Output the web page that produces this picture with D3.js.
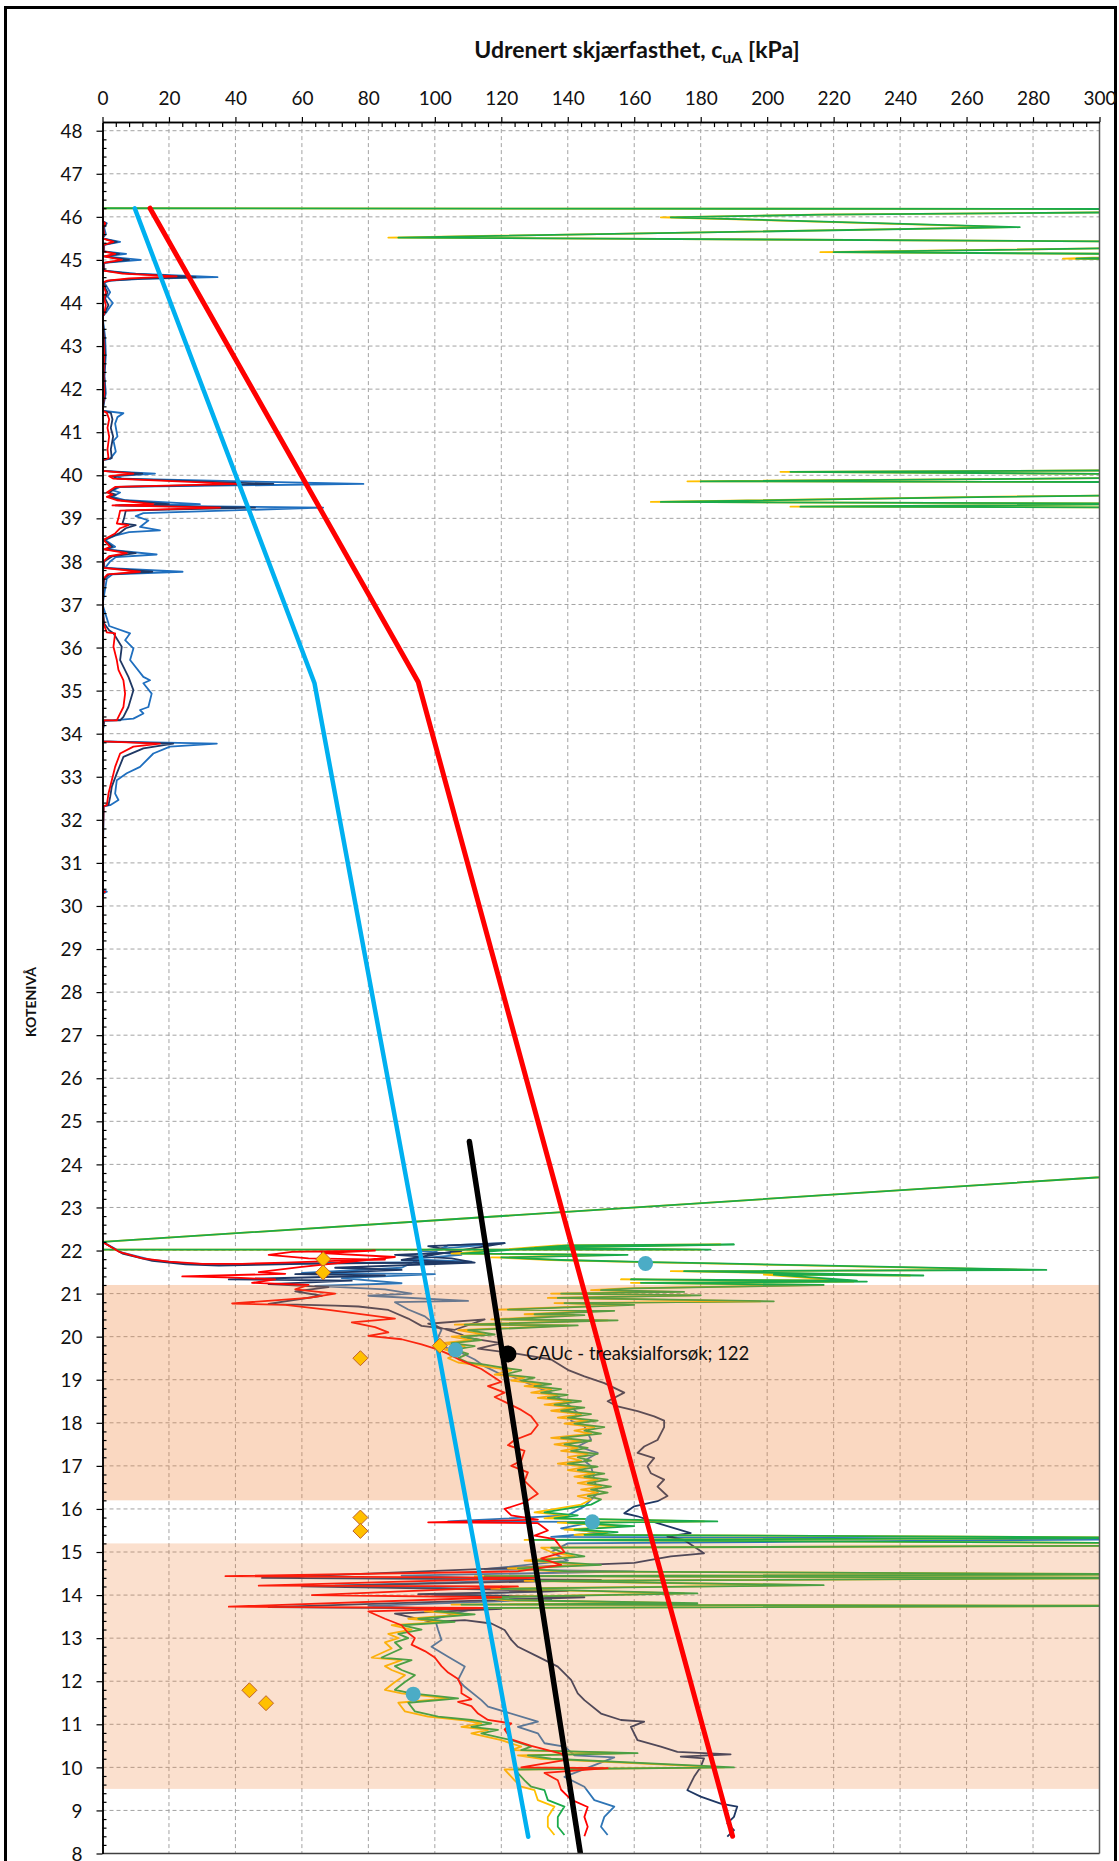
<!DOCTYPE html>
<html><head><meta charset="utf-8">
<script src="https://cdn.jsdelivr.net/npm/d3@7"></script>
<style>body{margin:0;background:#fff}svg{display:block}text{font-family:Lato,"Liberation Sans",sans-serif}</style>
</head><body><svg id="chart" width="1119" height="1861"></svg>
<script>
// ---------------- DATA ----------------
const xTicks = [0,20,40,60,80,100,120,140,160,180,200,220,240,260,280,300];
const yTicks = d3.range(8,49,1);
const titleMain = "Udrenert skjærfasthet, c";
const titleSub = "uA";
const titleEnd = " [kPa]";
const yLabel = "KOTENIVÅ";

// shaded layers [top elevation, bottom elevation]
const bandA = [21.2, 16.2];
const bandB = [15.2, 9.5];

// design lines [cu, elevation]
const redDesign = [[14.3,46.2],[95,35.2],[189.6,8.4]];
const blueDesign = [[9.7,46.2],[63.8,35.17],[128.1,8.39]];
const blackTrend = [[110.4,24.53],[143.8,8.0]];

// lab points
const diamondCu = [66.4,66.4,77.6,101.5,77.6,77.6,44.2,49.2];
const diamondElev = [21.8,21.49,19.5,19.79,15.8,15.49,11.79,11.49];
const circleCu = [106.2,163.4,147.4,93.5];
const circleElev = [19.69,21.7,15.7,11.7];
const triaxCu = [122];
const triaxElev = [19.6];
const triaxLabel = "CAUc - treaksialforsøk; 122";

// CPTU-derived profiles [cu, elevation]
const redUpper = [[0,46.22],[0,45.9],[0.8,45.85],[0.2,45.75],[0.5,45.6],[0,45.5],[3.3,45.42],[0.3,45.35],[0.3,45.2],[3.8,45.14],[0.5,45.08],[5.8,45.0],[0.3,44.93],[0.3,44.75],[6,44.68],[22.3,44.62],[8,44.57],[1.5,44.52],[0.2,44.48],[0.5,44.35],[1,44.25],[0.5,44.1],[1,43.95],[0.5,43.75],[0,43.68],[0.3,43.2],[0.5,42.8],[0.3,42.3],[0.5,41.9],[0,41.5],[1.3,41.45],[2,41.3],[1.5,41.1],[2,40.9],[1.5,40.6],[1.8,40.4],[0,40.35],[0,40.1],[9.3,40.04],[2,39.98],[3.3,39.92],[40.4,39.8],[3.8,39.73],[1.3,39.6],[3,39.55],[1.3,39.5],[4.3,39.42],[15.3,39.33],[3,39.3],[35.4,39.25],[5.3,39.18],[4.8,39.0],[4.3,38.88],[7.8,38.84],[5.3,38.77],[3.8,38.65],[0.3,38.5],[2.3,38.34],[0.5,38.28],[7.3,38.19],[2,38.12],[0.3,38.0],[0.3,37.85],[11.3,37.76],[1.5,37.7],[0.3,37.6],[0,37.0],[0.3,36.56],[1.3,36.35],[3.8,36.33],[3.3,36.02],[4.3,35.71],[4.8,35.48],[6.3,35.24],[6.8,34.93],[6.3,34.62],[4.8,34.39],[4.3,34.31],[0.3,34.31],[0,34.0],[0,33.82],[17.3,33.77],[9.3,33.7],[5.3,33.54],[3.8,33.23],[2.8,32.92],[1.8,32.61],[1.3,32.34],[0.3,32.32],[0,31.0],[0,30.35],[0.8,30.33],[0,30.3],[0,29.25]];
const navyUpper = [[0,46.22],[0,45.9],[1,45.85],[0.3,45.75],[0.5,45.6],[0,45.5],[4.3,45.42],[0.3,45.35],[0.3,45.2],[5,45.14],[0.5,45.08],[8,45.0],[0.3,44.93],[0.3,44.75],[8,44.68],[28,44.6],[10,44.56],[2,44.52],[0.3,44.48],[0.8,44.35],[1.5,44.25],[0.8,44.1],[1.8,43.95],[0.5,43.75],[0,43.68],[0.5,43.2],[0.8,42.8],[0.5,42.3],[0.8,41.9],[0,41.5],[2.5,41.45],[3,41.3],[2.5,41.1],[3.2,40.9],[2.5,40.6],[2.8,40.4],[0,40.35],[0,40.1],[12,40.04],[3,39.98],[4.5,39.92],[51.4,39.8],[4.5,39.73],[2,39.6],[4,39.55],[2,39.5],[5.5,39.42],[20,39.33],[4,39.3],[45.9,39.25],[7,39.18],[6.5,39.0],[6,38.88],[10,38.84],[7,38.77],[5,38.65],[0.5,38.5],[3,38.34],[0.8,38.28],[10,38.19],[3,38.12],[0.5,38.0],[0.5,37.85],[15,37.76],[2,37.7],[0.5,37.6],[0,37.0],[0.5,36.56],[2,36.4],[3.3,36.33],[5.8,36.02],[5.3,35.71],[7.8,35.32],[9.3,35.01],[7.8,34.62],[6.3,34.39],[5.3,34.31],[0.5,34.31],[0,34.0],[0,33.82],[21.3,33.77],[12.3,33.66],[6.3,33.46],[4.3,33.08],[2.8,32.77],[2.3,32.53],[1.8,32.34],[0.3,32.32],[0,30.2]];
const blueUpper = [[0,46.22],[0,45.9],[1.3,45.85],[0.5,45.75],[1,45.6],[0,45.5],[5.3,45.42],[0.5,45.35],[0.5,45.2],[7.1,45.14],[0.8,45.08],[11.5,45.0],[0.5,44.93],[0.5,44.75],[10,44.68],[34.6,44.6],[12,44.56],[2.5,44.52],[0.5,44.48],[2.3,44.25],[1.5,44.15],[3.1,44.0],[1.3,43.8],[0,43.68],[0.8,43.2],[1,42.8],[0.6,42.3],[1,41.9],[0,41.5],[6.3,41.44],[4.5,41.35],[3.8,41.2],[4.5,40.9],[3.3,40.8],[4,40.55],[2.3,40.38],[0,40.35],[0,40.1],[15.8,40.04],[4,39.98],[6,39.92],[78.5,39.8],[5.3,39.73],[3,39.65],[5.3,39.6],[3,39.5],[7,39.42],[29.3,39.33],[5,39.3],[66.4,39.25],[12.3,39.12],[10,39.05],[13.8,38.95],[11.3,38.8],[17.3,38.72],[8,38.68],[3.8,38.6],[0.8,38.5],[3.8,38.34],[1,38.28],[16.3,38.16],[4,38.1],[2.3,38.0],[0.8,37.85],[24.1,37.76],[3,37.7],[1.3,37.6],[0,37.0],[1.8,36.56],[2,36.5],[8.3,36.33],[6.8,36.17],[9.3,35.98],[8.3,35.71],[12.3,35.32],[14.3,35.24],[12.3,35.17],[14.8,34.93],[13.8,34.62],[11.3,34.55],[12.3,34.47],[9.3,34.35],[3.3,34.31],[0.5,34.3],[0,34.0],[0,33.82],[34.4,33.77],[20.3,33.7],[15.3,33.54],[11.3,33.23],[7.3,33.08],[4.3,32.92],[3.8,32.61],[4.8,32.46],[2.3,32.34],[0.3,32.32],[0,30.4],[1.3,30.33],[0,30.28],[0,30.2]];

const redLower = [[0,22.2],[5,21.97],[12,21.82],[20,21.74],[30,21.69],[42,21.69],[55,21.72],[70,21.76],[85,21.79],[62,21.82],[50,21.9],[57,21.97],[82,22.0],[66,21.94],[88,21.85],[60,21.62],[47,21.5],[55,21.46],[24,21.4],[40,21.37],[52,21.33],[45,21.25],[62,21.2],[58,21.1],[70,21.0],[62,20.9],[39,20.77],[55,20.74],[68,20.62],[80,20.5],[88,20.42],[75,20.33],[82,20.22],[86,20.1],[80,20.02],[90,19.94],[96,19.82],[101,19.7],[104,19.6],[107,19.48],[110,19.38],[114,19.25],[117,19.1],[120,18.95],[116,18.85],[121,18.7],[118,18.6],[122,18.45],[126,18.3],[129,18.15],[131,17.95],[129,17.75],[124,17.6],[122,17.48],[127,17.35],[126,17.12],[123,17.0],[128,16.85],[127,16.65],[131,16.35],[127,16.15],[121,16.0],[123,15.85],[131,15.75],[98,15.69],[131,15.67],[134,15.5],[130,15.38],[136,15.3],[139,15.0],[132,14.85],[138,14.7],[125,14.55],[37,14.44],[130,14.4],[47,14.22],[125,14.2],[63,14.0],[120,13.95],[38,13.73],[115,13.7],[80,13.62],[85,13.45],[90,13.3],[92,13.12],[94,13.0],[93,12.85],[97,12.7],[100,12.55],[102,12.35],[104,12.2],[107,12.05],[108,11.88],[108,11.72],[111,11.58],[107,11.52],[111,11.42],[113,11.25],[116,11.1],[123,11.02],[121,10.88],[123,10.65],[129,10.5],[138,10.32],[140,10.18],[126,10.0],[152,9.98],[133,9.87],[137,9.7],[138,9.48],[141,9.25],[146,9.08],[145,8.85],[146,8.62],[145,8.4]];
const navyLower = [[0,22.2],[6,21.93],[15,21.76],[25,21.68],[35,21.65],[46,21.67],[60,21.69],[80,21.71],[110,21.72],[90,21.78],[121,22.17],[98,22.1],[108,21.96],[88,21.9],[105,21.82],[112,21.72],[70,21.6],[90,21.55],[58,21.45],[85,21.42],[38,21.33],[75,21.3],[50,21.22],[68,21.15],[58,21.05],[66,20.95],[50,20.76],[70,20.72],[77,20.7],[86,20.62],[92,20.42],[96,20.25],[106,20.16],[115,20.4],[98,20.3],[108,20.05],[110,19.97],[120,19.85],[113,19.72],[125,19.6],[135,19.47],[140,19.23],[145,19.08],[151,18.92],[157,18.7],[152,18.5],[155,18.38],[161,18.27],[166,18.15],[169,18.05],[169,17.9],[168,17.75],[167,17.6],[163,17.45],[161,17.3],[166,17.18],[164,16.99],[165,16.83],[169,16.68],[167,16.52],[170,16.3],[167,16.18],[160,16.06],[157,15.9],[161,15.83],[167,15.67],[177,15.44],[170,15.36],[175,15.28],[181,14.97],[171,14.9],[165,14.82],[160,14.75],[48,14.4],[150,14.35],[60,14.2],[140,14.1],[95,14.02],[145,13.95],[50,13.72],[120,13.68],[88,13.57],[99,13.38],[109,13.42],[117,13.34],[121,13.19],[123,12.96],[125,12.8],[131,12.57],[137,12.34],[141,12.03],[143,11.72],[145,11.56],[150,11.25],[156,11.1],[163,11.06],[159,10.94],[161,10.63],[168,10.48],[173,10.36],[189,10.3],[174,10.25],[181,10.21],[180,10.01],[178,9.78],[176,9.47],[180,9.32],[186,9.16],[191,9.09],[190,8.85],[188,8.7],[190,8.54],[188,8.39]];
const blueLower = [[0,22.2],[6,21.95],[15,21.78],[25,21.7],[36,21.67],[50,21.69],[70,21.71],[100,21.73],[111,21.74],[92,21.8],[108,21.9],[95,22.0],[121,22.17],[104,22.12],[90,21.6],[60,21.48],[100,21.45],[72,21.36],[90,21.24],[64,21.18],[85,21.1],[93,21.0],[80,20.95],[110,20.83],[88,20.8],[92,20.63],[97,20.47],[102,20.16],[100,19.82],[107,19.66],[112,19.47],[115,19.31],[120,19.12],[123,19.08],[130,18.85],[135,18.69],[139,18.5],[143,18.23],[141,18.05],[145,17.92],[147,17.61],[143,17.45],[149,17.3],[145,17.12],[147,16.99],[148,16.68],[149,16.37],[145,16.06],[140,15.85],[104,15.71],[148,15.7],[138,15.55],[150,15.45],[135,15.35],[320,15.3],[140,15.2],[135,15.0],[140,14.8],[115,14.6],[160,14.55],[90,14.45],[130,14.35],[70,14.22],[140,14.1],[100,14.0],[135,13.9],[80,13.75],[110,13.65],[100,13.45],[101,13.19],[102,12.96],[99,12.8],[104,12.57],[109,12.34],[107,12.03],[109,11.87],[114,11.56],[116,11.41],[131,11.06],[125,10.94],[131,10.79],[133,10.56],[139,10.48],[142,10.28],[154,10.23],[139,9.78],[145,9.55],[148,9.24],[154,9.09],[151,8.85],[150,8.62],[152,8.43]];

const greenCPTU = [[0,46.2],[330,46.18],[330,46.12],[217,46.05],[171,45.99],[276,45.76],[89,45.52],[330,45.42],[330,45.3],[220,45.18],[330,45.13],[293,45.03],[330,45.0],[400,44.0],[420,41.0],[330,40.12],[207,40.08],[330,40.02],[330,39.95],[180,39.86],[330,39.84],[330,39.55],[268,39.5],[168,39.38],[330,39.34],[210,39.27],[330,39.25],[450,35],[420,28],[400,24.2],[0,22.2],[0,22.02],[183,22.02],[130,22.06],[190,22.14],[140,22.12],[108,21.93],[158,21.9],[120,21.84],[138,21.78],[165,21.73],[185,21.7],[284,21.55],[175,21.52],[247,21.42],[202,21.44],[227,21.3],[159,21.33],[230,21.28],[162,21.25],[217,21.2],[160,21.12],[150,21.08],[175,21.04],[138,21.0],[180,20.96],[137,20.9],[202,20.82],[139,20.78],[160,20.74],[122,20.63],[154,20.6],[130,20.52],[145,20.5],[120,20.4],[155,20.38],[109,20.28],[143,20.26],[110,20.15],[118,20.05],[108,20.0],[114,19.92],[105,19.85],[112,19.78],[106,19.7],[110,19.6],[107,19.5],[110,19.4],[115,19.35],[119,19.3],[126,19.22],[121,19.12],[130,19.05],[126,18.98],[135,18.9],[130,18.85],[138,18.78],[132,18.7],[140,18.65],[134,18.58],[144,18.5],[136,18.42],[145,18.35],[138,18.28],[147,18.2],[140,18.12],[149,18.05],[142,17.98],[151,17.9],[145,17.82],[150,17.75],[138,17.65],[147,17.58],[139,17.5],[146,17.42],[141,17.35],[149,17.28],[143,17.2],[147,17.12],[140,17.05],[149,16.98],[143,16.9],[151,16.82],[145,16.75],[152,16.68],[146,16.6],[153,16.52],[147,16.45],[152,16.38],[146,16.3],[150,16.22],[147,16.1],[133,15.92],[143,15.85],[136,15.78],[185,15.71],[140,15.68],[160,15.6],[142,15.52],[155,15.46],[145,15.4],[330,15.33],[130,15.28],[330,15.2],[330,15.15],[135,15.1],[138,15.0],[145,14.9],[130,14.8],[150,14.7],[125,14.62],[140,14.55],[330,14.48],[115,14.44],[330,14.4],[130,14.33],[217,14.23],[120,14.15],[179,14.04],[115,13.95],[125,13.88],[179,13.81],[108,13.78],[330,13.75],[105,13.7],[100,13.62],[112,13.55],[95,13.45],[106,13.38],[90,13.3],[96,13.2],[89,13.1],[92,13.0],[88,12.9],[90,12.76],[84,12.55],[93,12.49],[88,12.35],[90,12.26],[94,12.14],[91,11.98],[88,11.8],[93,11.72],[107,11.6],[92,11.5],[94,11.3],[101,11.18],[111,11.1],[117,11.02],[111,10.94],[119,10.87],[114,10.79],[123,10.63],[129,10.48],[126,10.4],[161,10.33],[128,10.28],[135,10.2],[190,10.0],[124,9.95],[127,9.7],[129,9.55],[133,9.47],[134,9.24],[139,9.09],[137,8.85],[137,8.62],[139,8.43]];
const yellowCPTU = [[0,46.2],[330,46.18],[330,46.12],[214,46.05],[168,45.99],[273,45.76],[86,45.52],[330,45.42],[330,45.3],[216,45.18],[330,45.13],[289,45.03],[330,45.0],[400,44.0],[420,41.0],[330,40.12],[204,40.08],[330,40.02],[330,39.95],[176,39.86],[330,39.84],[330,39.55],[264,39.5],[165,39.38],[330,39.34],[207,39.27],[330,39.25],[450,35],[420,28],[400,24.2],[0,22.2],[0,22.02],[180,22.02],[128,22.06],[186,22.14],[137,22.12],[105,21.93],[155,21.9],[117,21.84],[135,21.78],[162,21.73],[181,21.7],[279,21.55],[171,21.52],[243,21.42],[199,21.44],[223,21.3],[156,21.33],[226,21.28],[159,21.25],[213,21.2],[157,21.12],[147,21.08],[172,21.04],[135,21.0],[177,20.96],[134,20.9],[198,20.82],[136,20.78],[157,20.74],[119,20.63],[151,20.6],[127,20.52],[142,20.5],[117,20.4],[152,20.38],[106,20.28],[140,20.26],[107,20.15],[115,20.05],[105,20.0],[111,19.92],[102,19.85],[109,19.78],[103,19.7],[107,19.6],[104,19.5],[107,19.4],[112,19.35],[116,19.3],[123,19.22],[118,19.12],[127,19.05],[123,18.98],[132,18.9],[127,18.85],[135,18.78],[129,18.7],[137,18.65],[131,18.58],[141,18.5],[133,18.42],[142,18.35],[135,18.28],[144,18.2],[137,18.12],[146,18.05],[139,17.98],[148,17.9],[142,17.82],[147,17.75],[135,17.65],[144,17.58],[136,17.5],[143,17.42],[138,17.35],[146,17.28],[140,17.2],[144,17.12],[137,17.05],[146,16.98],[140,16.9],[148,16.82],[142,16.75],[149,16.68],[143,16.6],[150,16.52],[144,16.45],[149,16.38],[143,16.3],[147,16.22],[144,16.1],[130,15.92],[140,15.85],[133,15.78],[181,15.71],[137,15.68],[157,15.6],[139,15.52],[152,15.46],[142,15.4],[330,15.33],[127,15.28],[330,15.2],[330,15.15],[132,15.1],[135,15.0],[142,14.9],[127,14.8],[147,14.7],[122,14.62],[137,14.55],[330,14.48],[112,14.44],[330,14.4],[127,14.33],[213,14.23],[117,14.15],[175,14.04],[112,13.95],[122,13.88],[175,13.81],[105,13.78],[330,13.75],[102,13.7],[97,13.62],[109,13.55],[92,13.45],[103,13.38],[87,13.3],[93,13.2],[86,13.1],[89,13.0],[85,12.9],[87,12.76],[81,12.55],[90,12.49],[85,12.35],[87,12.26],[91,12.14],[88,11.98],[85,11.8],[90,11.72],[104,11.6],[89,11.5],[91,11.3],[98,11.18],[108,11.1],[114,11.02],[108,10.94],[116,10.87],[111,10.79],[120,10.63],[126,10.48],[123,10.4],[158,10.33],[125,10.28],[132,10.2],[187,10.0],[121,9.95],[124,9.7],[126,9.55],[130,9.47],[131,9.24],[136,9.09],[134,8.85],[134,8.62],[136,8.43]];

// ---------------- CHART ----------------
const svg = d3.select("#chart");
const P = {left:102.5, right:1099.5, top:122.1, bottom:1853.5};
const x = d3.scaleLinear().domain([0,300]).range([P.left,P.right]);
const y = d3.scaleLinear().domain([8,48.2]).range([P.bottom,P.top]);
const FONT = "Lato, 'Liberation Sans', sans-serif";

// outer frame
svg.append("rect").attr("x",5.5).attr("y",7.5).attr("width",1110).attr("height",1870)
  .attr("fill","none").attr("stroke","#000").attr("stroke-width",3);

svg.append("defs").append("clipPath").attr("id","plotclip").append("rect")
  .attr("x",P.left).attr("y",P.top).attr("width",P.right-P.left).attr("height",P.bottom-P.top);

// grid
const grid = svg.append("g").attr("stroke","#a3a3a3").attr("stroke-width",1).attr("stroke-dasharray","4,3");
grid.selectAll("line.v").data(xTicks.filter(v=>v>0&&v<300)).enter().append("line")
  .attr("x1",d=>x(d)).attr("x2",d=>x(d)).attr("y1",P.top).attr("y2",P.bottom);
grid.selectAll("line.h").data(yTicks.filter(v=>v>8)).enter().append("line")
  .attr("x1",P.left).attr("x2",P.right).attr("y1",d=>y(d)).attr("y2",d=>y(d));

// CPTU profiles
const line = d3.line().x(d=>x(d[0])).y(d=>y(d[1]));
const prof = svg.append("g").attr("clip-path","url(#plotclip)").attr("fill","none")
  .attr("stroke-width",1.8).attr("stroke-linejoin","round");
const series = [
  [blueUpper,"#1f6fbf"],[navyUpper,"#1f3864"],[redUpper,"#ff0000"],
  [blueLower,"#2e75b6"],[navyLower,"#1f3864"],
  [yellowCPTU,"#ffc000"],[greenCPTU,"#1aaa4a"],
  [redLower,"#ff0000"]
];
series.forEach(([d,c])=>prof.append("path").datum(d).attr("d",line).attr("stroke",c));

// translucent layers
const bands = svg.append("g");
bands.append("rect").attr("x",x(0)).attr("width",x(300)-x(0))
  .attr("y",y(bandA[0])).attr("height",y(bandA[1])-y(bandA[0]))
  .attr("fill","#ed7d31").attr("fill-opacity",0.3);
bands.append("rect").attr("x",x(0)).attr("width",x(300)-x(0))
  .attr("y",y(bandB[0])).attr("height",y(bandB[1])-y(bandB[0]))
  .attr("fill","#ed7d31").attr("fill-opacity",0.24);

// design lines
const dl = svg.append("g").attr("clip-path","url(#plotclip)").attr("fill","none").attr("stroke-linecap","round");
dl.append("path").datum(blueDesign).attr("d",line).attr("stroke","#00b0f0").attr("stroke-width",4.5);
dl.append("path").datum(redDesign).attr("d",line).attr("stroke","#ff0000").attr("stroke-width",5);
dl.append("path").datum(blackTrend).attr("d",line).attr("stroke","#000").attr("stroke-width",5.5);

// markers
const mk = svg.append("g");
const dia = 7.5;
mk.selectAll("path.d").data(diamondCu.map((c,i)=>[c,diamondElev[i]])).enter().append("path")
  .attr("d",d=>{const cx=x(d[0]),cy=y(d[1]);return `M${cx},${cy-dia}L${cx+dia},${cy}L${cx},${cy+dia}L${cx-dia},${cy}Z`;})
  .attr("fill","#ffc000").attr("stroke","#c0612b").attr("stroke-width",1);
mk.selectAll("circle.c").data(circleCu.map((c,i)=>[c,circleElev[i]])).enter().append("circle")
  .attr("cx",d=>x(d[0])).attr("cy",d=>y(d[1])).attr("r",7.5).attr("fill","#4bacc6");
mk.selectAll("circle.t").data(triaxCu.map((c,i)=>[c,triaxElev[i]])).enter().append("circle")
  .attr("cx",d=>x(d[0])).attr("cy",d=>y(d[1])).attr("r",8.5).attr("fill","#000");
mk.append("text").attr("x",x(triaxCu[0])+18).attr("y",y(triaxElev[0])).attr("dy","0.35em")
  .attr("font-size",18.5).attr("fill","#111").text(triaxLabel);

// plot frame right/bottom
svg.append("line").attr("x1",P.right).attr("x2",P.right).attr("y1",P.top).attr("y2",P.bottom).attr("stroke","#595959").attr("stroke-width",1.5);
svg.append("line").attr("x1",P.left).attr("x2",P.right).attr("y1",P.bottom).attr("y2",P.bottom).attr("stroke","#404040").attr("stroke-width",1.5);

// axes
const minorX = d3.range(0,301,4).filter(v=>v%20!==0);
const minorY = d3.range(80,482,2).map(v=>v/10).filter(v=>Math.abs(v-Math.round(v))>1e-6);
const gxm = svg.append("g").attr("transform",`translate(0,${P.top})`)
  .call(d3.axisTop(x).tickValues(minorX).tickSize(-5).tickSizeOuter(0).tickFormat(""));
const gx = svg.append("g").attr("transform",`translate(0,${P.top})`)
  .call(d3.axisTop(x).tickValues(xTicks).tickSize(5).tickSizeOuter(0).tickPadding(12));
const gym = svg.append("g").attr("transform",`translate(${P.left},0)`)
  .call(d3.axisLeft(y).tickValues(minorY).tickSize(-4).tickSizeOuter(0).tickFormat(""));
const gy = svg.append("g").attr("transform",`translate(${P.left},0)`)
  .call(d3.axisLeft(y).tickValues(yTicks).tickSize(6).tickSizeOuter(0).tickPadding(14));
[gx,gy,gxm,gym].forEach(g=>{
  g.selectAll("path.domain").attr("stroke","#000").attr("stroke-width",1.5);
  g.selectAll(".tick line").attr("stroke","#000").attr("stroke-width",1.2);
  g.selectAll("text").attr("font-size",19).attr("fill","#111").attr("font-family",FONT);
});
gy.selectAll("text").attr("dy","0.35em");

// title
const t = svg.append("text").attr("x",637).attr("y",58).attr("text-anchor","middle")
  .attr("font-size",23).attr("font-weight","bold").attr("fill","#111");
t.append("tspan").text(titleMain);
t.append("tspan").attr("font-size",16).attr("dy",5).text(titleSub);
t.append("tspan").attr("dy",-5).text(titleEnd);

// y label
svg.append("text").attr("transform","translate(36,1002) rotate(-90)").attr("text-anchor","middle")
  .attr("font-size",14).attr("font-weight","bold").attr("fill","#111").text(yLabel);
</script></body></html>
